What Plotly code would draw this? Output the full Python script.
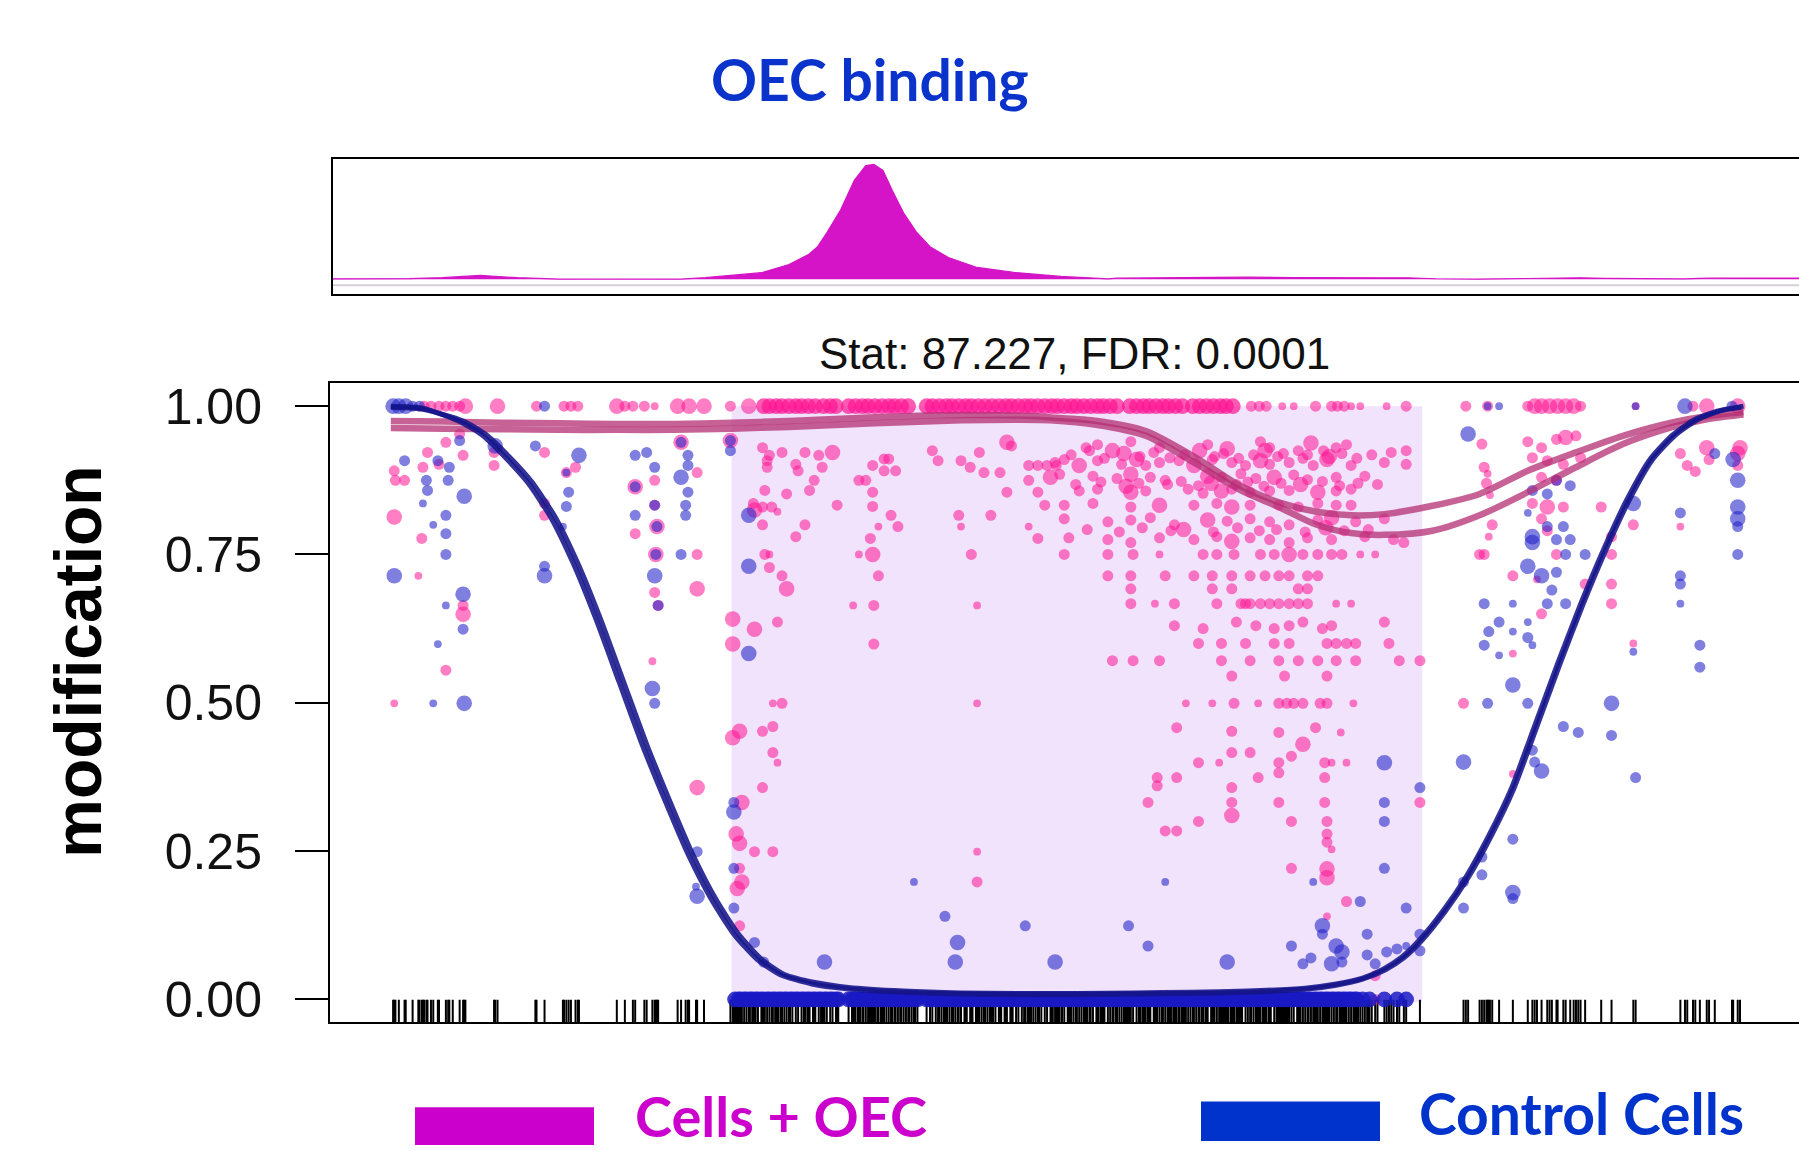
import numpy as np
import plotly.graph_objects as go

W, H = 1799, 1151

# ---------------------------------------------------------------- data
x_min, x_max = 0, 1280.4            # genomic window (relative position units)
region_start, region_end = 350, 952  # highlighted region

y_ticks = [0, 0.25, 0.5, 0.75, 1.0]
y_tick_labels = ["0.00", "0.25", "0.50", "0.75", "1.00"]

# OEC binding signal (top track)
track_x = [0, 40, 65, 69, 98, 131, 163, 184, 200, 237, 306, 327, 343, 376, 400, 417, 425, 433, 445, 457,
           467, 474, 482, 490, 500, 511, 523, 539, 564, 596, 637, 662, 678, 686, 720, 760, 800, 840, 880, 920,
           939, 964, 1000, 1021, 1062, 1090, 1111, 1144, 1180, 1201, 1240, 1281]
track_y = [0.5, 0.5, 0.8, 0.8, 1.7, 4.0, 1.7, 0.7, 0.3, 0.2, 0.3, 1.7, 3.3, 6.7, 15, 25, 33, 47, 70, 100,
           115, 116, 110, 90, 67, 48, 33, 22, 12, 7, 3, 1.2, 0.5, 1.2, 1.6, 2.0, 2.2, 1.8, 2.0, 1.6,
           1.5, 0.6, 0.3, 0.5, 1.3, 1.5, 1.0, 0.4, 0.4, 1.2, 1.5, 1.3]

# ---- Cells + OEC
# fully modified sites (y = 1)
pink_top_y = 1.0
pink_top_x = [82, 88, 95, 101, 107, 113, 118, 146, 180, 204, 210, 216, 250, 257, 264, 274, 283, 303, 313, 326,
              349, 365, 803, 810, 816, 830, 840, 859, 873, 878, 884, 890, 898, 921, 938, 990, 1009, 1044, 1050, 1056,
              1063, 1070, 1077, 1084, 1090, 1138, 1188, 1200, 1227]
pink_top_cov = [4, 4, 4, 4, 4, 4, 8, 8, 4, 4, 4, 4, 8, 4, 4, 4, 2, 8, 8, 8,
                4, 8, 4, 4, 4, 2, 2, 4, 4, 4, 4, 2, 2, 2, 4, 4, 4, 4, 8, 8,
                8, 8, 8, 8, 4, 2, 4, 8, 8]
pink_band_cov = 8
pink_band_x = [378, 383, 389, 394, 400, 406, 411, 417, 423, 430, 436, 441, 452, 458, 464, 469, 475, 481, 487, 492,
               498, 504, 520, 525, 531, 537, 542, 548, 554, 559, 565, 571, 577, 583, 589, 594, 600, 606, 611, 617,
               623, 629, 634, 640, 646, 651, 657, 663, 669, 674, 680, 686, 697, 703, 709, 714, 720, 726, 731, 737,
               743, 752, 758, 764, 770, 776, 781, 787]

pink_left_x = [56, 57, 65, 56, 77, 85, 81, 95, 101, 113, 116, 80, 116, 116, 101, 143, 143, 187, 187, 187,
               214, 206, 283, 266, 283, 285, 266, 284, 283, 286, 281, 306, 320, 320, 320, 349, 56, 320]
pink_left_y = [.891, .875, .875, .813, .714, .922, .897, .902, .939, .953, .917, .777, .664, .649, .555, .922, .900, .922, .836, .816,
               .897, .888, .875, .864, .833, .797, .785, .750, .686, .664, .570, .939, .888, .750, .692, .942, .499, .357]
pink_left_cov = [4, 4, 4, 8, 2, 4, 4, 4, 4, 4, 4, 4, 4, 8, 4, 4, 4, 4, 4, 4,
                 4, 4, 4, 8, 4, 8, 4, 8, 4, 4, 2, 8, 4, 4, 8, 8, 2, 8]

pink_mid_x = [377, 383, 381, 394, 381, 406, 379, 398, 369, 377, 385, 390, 370, 377, 414, 406, 379, 383, 383, 394, 398, 351, 370, 390, 351,
              414, 438, 426, 408, 429, 422, 418, 442, 461, 467, 473, 483, 487, 493, 483, 473, 473, 489, 478, 495, 471, 461, 473, 478, 456, 474, 474,
              525, 530, 550, 558, 570, 584, 566, 590, 594, 609, 617, 625, 633, 609, 590, 617, 623, 548, 576, 550, 609, 617, 559, 564]
pink_mid_y = [.930, .917, .908, .922, .897, .902, .858, .852, .836, .830, .830, .822, .825, .800, .800, .780, .750, .750, .728, .714, .692, .641, .624, .636, .599,
              .922, .922, .917, .891, .897, .875, .858, .833, .875, .875, .900, .911, .911, .891, .891, .855, .831, .816, .797, .797, .777, .750, .750, .714, .664, .664, .599,
              .925, .908, .908, .897, .888, .888, .922, .939, .933, .900, .900, .900, .900, .875, .855, .855, .833, .816, .816, .797, .797, .777, .750, .664]
pink_mid_cov = [4, 4, 4, 4, 4, 4, 4, 4, 4, 4, 4, 2, 8, 4, 4, 4, 4, 2, 4, 4, 8, 8, 8, 4, 8,
                4, 8, 4, 4, 4, 4, 4, 4, 4, 4, 4, 4, 4, 4, 4, 4, 4, 4, 2, 4, 4, 2, 8, 4, 2, 4, 4,
                4, 4, 4, 4, 4, 4, 4, 8, 4, 4, 4, 4, 4, 4, 4, 4, 4, 4, 4, 2, 2, 4, 4, 2]

pink_cloud_x = [659, 669, 682, 698, 723, 765, 782, 811, 819, 844, 855, 877, 886, 938,
                632, 640, 653, 669, 690, 703, 711, 723, 740, 753, 769, 786, 798, 811, 819, 836, 857, 869, 890, 919, 938,
                628, 636, 665, 686, 698, 715, 728, 765, 777, 794, 807, 823, 840, 852, 877, 902,
                653, 669, 698, 711, 748, 761, 777, 786, 802, 819, 836, 861, 877, 890,
                640, 665, 698, 723, 753, 773, 786, 802, 827, 844, 861, 877, 890,
                640, 678, 698, 715, 736, 765, 782, 802, 819, 836, 861, 873, 894, 919,
                644, 678, 698, 723, 753, 773, 786, 802, 819, 836, 852, 873, 902, 927, 936,
                640, 678, 700, 723, 761, 773, 788, 811, 823, 836, 848, 861, 873, 882, 898, 911,
                678, 698, 728, 753, 769, 786, 802, 815, 827, 836, 852, 861,
                698, 769, 786, 844, 852,
                698, 719, 736, 773, 794, 798, 802, 811, 819, 827, 836, 844, 852, 877, 890,
                736, 761, 790, 807, 823, 836, 848, 865, 873, 919,
                757, 777, 798, 823, 836, 869, 877, 886, 894, 923,
                682, 700, 723, 777, 802, 827, 844, 861, 877, 894, 932, 950,
                786, 832, 869]
pink_cloud_y = [.930, .935, .925, .940, .930, .935, .928, .940, .930, .925, .938, .930, .935, .925,
                .905, .910, .900, .908, .902, .910, .900, .905, .908, .900, .910, .905, .900, .908, .902, .905, .900, .910, .900, .905, .902,
                .880, .885, .882, .878, .885, .880, .875, .882, .880, .886, .878, .880, .884, .876, .880, .882,
                .857, .860, .855, .857, .860, .853, .857, .860, .855, .857, .858, .855, .857, .860,
                .833, .836, .830, .833, .833, .836, .830, .833, .833, .830, .836, .833, .833,
                .810, .805, .808, .812, .800, .808, .806, .810, .805, .800, .808, .812, .805, .810,
                .778, .775, .770, .778, .775, .780, .772, .778, .775, .770, .778, .775, .780, .775, .770,
                .750, .750, .750, .750, .750, .750, .750, .750, .750, .750, .750, .750, .750, .750, .750, .750,
                .714, .714, .714, .714, .714, .714, .714, .714, .714, .714, .714, .714,
                .692, .692, .692, .692, .692,
                .667, .667, .667, .667, .667, .667, .667, .667, .667, .667, .667, .667, .667, .667, .667,
                .630, .625, .636, .630, .625, .630, .636, .625, .630, .636,
                .600, .600, .600, .600, .600, .600, .600, .600, .600, .600,
                .571, .571, .571, .571, .571, .571, .571, .571, .571, .571, .571, .571,
                .545, .545, .545]
pink_cloud_cov = [4, 4, 8, 4, 4, 4, 8, 4, 4, 4, 8, 4, 4, 4,
                  4, 4, 8, 4, 4, 8, 4, 4, 4, 8, 4, 4, 4, 8, 4, 4, 4, 8, 4, 4, 4,
                  8, 4, 4, 4, 8, 4, 4, 8, 4, 4, 4, 8, 4, 4, 4, 4,
                  4, 4, 8, 4, 4, 4, 8, 4, 4, 4, 4, 8, 4, 4,
                  4, 4, 4, 8, 4, 4, 8, 4, 4, 4, 4, 4, 4,
                  4, 4, 4, 4, 4, 8, 4, 4, 4, 4, 4, 8, 4, 4,
                  4, 4, 4, 4, 4, 4, 8, 4, 4, 4, 4, 4, 4, 4, 4,
                  4, 4, 4, 2, 4, 4, 4, 4, 4, 8, 4, 4, 4, 4, 2, 2,
                  4, 4, 4, 4, 4, 4, 4, 4, 4, 4, 4, 4,
                  4, 4, 4, 4, 4,
                  4, 2, 4, 4, 4, 4, 4, 4, 4, 4, 4, 4, 4, 2, 2,
                  4, 4, 4, 4, 4, 4, 4, 4, 4, 4,
                  4, 4, 4, 4, 4, 4, 4, 4, 4, 4,
                  4, 4, 4, 4, 4, 4, 4, 4, 4, 4, 4, 4,
                  4, 4, 4]

# extra overlapping sites in the dense upper part of the cloud
pink_cloud2_x = [646, 662, 675, 692, 706, 718, 732, 745, 758, 771, 779, 792, 805, 815, 826, 831, 848, 852, 866, 871, 882, 895, 908, 925,
                 650, 672, 694, 705, 730, 742, 757, 768, 790, 800, 814, 829, 846, 865, 880, 896, 913,
                 660, 688, 708, 733, 744, 770, 791, 810, 825, 850, 868, 884, 905]
pink_cloud2_y = [.918, .925, .912, .920, .915, .922, .913, .918, .925, .915, .920, .912, .918, .925, .915, .920, .912, .918, .925, .915, .920, .912, .918, .922,
                 .868, .872, .865, .870, .868, .873, .866, .870, .868, .872, .865, .870, .868, .873, .866, .870, .868,
                 .792, .788, .795, .790, .792, .788, .795, .790, .792, .788, .795, .790, .792]
pink_cloud2_cov = [4, 4, 4, 8, 4, 4, 4, 4, 8, 4, 4, 4, 4, 8, 4, 4, 4, 4, 4, 8, 4, 4, 4, 4,
                   4, 4, 8, 4, 4, 4, 4, 8, 4, 4, 4, 4, 8, 4, 4, 4, 4,
                   4, 4, 4, 4, 8, 4, 4, 4, 4, 4, 8, 4, 4]

pink_low_x = [351, 357, 377, 386, 386, 390, 394, 386, 377, 359, 354, 357, 370, 386, 357, 359, 355, 357, 564, 564, 564, 356,
              746, 769, 788, 809, 827, 834, 840, 848, 863, 869, 892,
              738, 786, 827, 859, 881, 848, 786, 802, 757, 775, 827, 838, 867, 873, 886, 721, 721, 738, 809, 827, 867, 786,
              713, 786, 827, 867, 950, 728, 738, 757, 786, 838, 869, 869, 869, 873, 838, 869, 869, 886, 869, 911, 911]
pink_low_y = [.441, .452, .452, .460, .416, .399, .499, .499, .357, .332, .279, .263, .249, .249, .221, .198, .187, .124, .499, .249, .198, 0.0,
              .499, .499, .499, .499, .499, .499, .499, .499, .499, .499, .499,
              .458, .452, .450, .458, .450, .430, .416, .416, .399, .399, .399, .410, .399, .399, .399, .374, .360, .374, .374, .382, .374, .357,
              .332, .332, .332, .332, .332, .284, .284, .300, .310, .300, .300, .279, .265, .253, .221, .220, .205, .165, .140, .040, 0.0]
pink_low_cov = [8, 8, 4, 4, 4, 2, 4, 2, 4, 8, 8, 8, 4, 4, 4, 8, 8, 4, 2, 2, 4, 4,
                2, 2, 4, 2, 4, 4, 4, 4, 4, 4, 2,
                4, 4, 4, 4, 2, 8, 4, 4, 4, 2, 4, 4, 4, 2, 2, 4, 4, 4, 4, 4, 4, 4,
                4, 4, 4, 4, 4, 4, 4, 4, 8, 4, 4, 4, 4, 2, 4, 8, 8, 4, 2, 4, 4]

pink_right_x = [1004, 1006, 1009, 1044, 1056, 1069, 1077, 1086, 1048, 1061, 1075, 1090, 1056, 1069, 1048, 1061, 1075, 1056, 1061, 1069,
                1052, 1094, 1031, 1013, 1010, 1002, 1006, 1011, 1008, 1031, 1056, 1117, 1117, 1117, 1117, 1108, 1136, 1136, 1177, 1177,
                1183, 1190, 1200, 1202, 1227, 1229, 1227, 988, 1031]
pink_right_y = [.936, .897, .886, .940, .930, .944, .947, .950, .913, .908, .902, .913, .880, .875, .836, .830, .830, .810, .790, .750,
                .708, .700, .714, .800, .780, .750, .750, .850, .870, .583, .650, .780, .750, .700, .667, .830, .800, .600, .797, .920,
                .900, .890, .930, .910, .920, .930, .900, .499, .380]
pink_right_cov = [4, 4, 2, 4, 4, 4, 8, 4, 4, 4, 4, 4, 4, 4, 4, 8, 4, 4, 4, 4,
                  2, 4, 4, 4, 2, 4, 4, 2, 4, 2, 4, 4, 4, 4, 4, 4, 4, 2, 2, 4,
                  4, 4, 8, 4, 8, 8, 4, 4, 2]

# ---- Control cells
blue_top_y = 1.0
blue_top_x = [55, 60, 66, 72, 78, 187, 1009, 1019, 1138, 1181, 1222]
blue_top_cov = [8, 8, 8, 4, 4, 4, 2, 2, 2, 8, 4]

# unmodified sites (y = 0), densely packed inside the region
blue_band_y = 0.0
blue_band_cov = 8
blue_band_x = [353, 358, 363, 368, 373, 378, 383, 388, 393, 398, 403, 408, 413, 418, 423, 428, 433, 438, 443, 452,
               457, 462, 467, 472, 477, 482, 487, 492, 497, 502, 507, 512, 520, 525, 530, 535, 540, 545, 550, 555,
               560, 565, 570, 575, 580, 585, 590, 595, 600, 605, 610, 615, 620, 625, 630, 635, 640, 645, 650, 655,
               660, 665, 670, 675, 680, 685, 690, 695, 700, 705, 710, 715, 720, 725, 730, 735, 740, 745, 750, 755,
               760, 765, 770, 775, 780, 785, 790, 795, 800, 805, 810, 815, 820, 825, 830, 835, 840, 845, 850, 855,
               860, 865, 870, 875, 880, 885, 890, 895, 900, 906, 919, 930, 938]
blue_band2_x = [356, 361, 366, 371, 376, 381, 386, 391, 396, 401, 406, 411, 416, 421, 426, 431, 436, 441, 455, 460,
                465, 470, 475, 480, 485, 490, 495, 500, 505, 510, 523, 528, 533, 538, 543, 548, 553, 558, 563, 568,
                573, 578, 583, 588, 593, 598, 603, 608, 613, 618, 623, 628, 633, 638, 643, 648, 653, 658, 663, 668,
                673, 678, 683, 688, 693, 698, 703, 708, 713, 718, 723, 728, 733, 738, 743, 748, 753, 758, 763, 768,
                773, 778, 783, 788, 793, 798, 803, 808, 813, 818, 823, 828, 833, 838, 843, 848, 853, 858, 863, 868,
                873, 878, 883, 888, 893]

blue_left_x = [65, 56, 94, 104, 113, 84, 85, 103, 117, 81, 101, 90, 101, 101, 116, 116, 101, 94, 144, 179, 187, 187, 217, 206, 208, 206, 203,
               266, 276, 283, 266, 266, 283, 285, 284, 283, 286, 306, 312, 312, 306, 312, 310, 310, 306, 349, 349, 365, 365, 365]
blue_left_y = [.908, .714, .908, .897, .942, .875, .858, .875, .848, .836, .816, .800, .785, .750, .683, .624, .664, .599, .933, .933, .730, .714, .917, .888, .855, .831, .797,
               .917, .922, .897, .864, .816, .833, .797, .750, .714, .664, .939, .917, .900, .880, .855, .833, .816, .750, .942, .925, .816, .730, .583]
blue_left_cov = [4, 8, 4, 4, 4, 4, 4, 4, 8, 2, 4, 2, 4, 4, 8, 4, 2, 2, 8, 4, 4, 8, 8, 2, 4, 4, 2,
                 4, 4, 4, 4, 4, 4, 4, 4, 8, 4, 4, 4, 4, 8, 4, 4, 4, 4, 4, 4, 8, 8, 8]

blue_low_x = [90, 117, 281, 283, 320, 319, 320, 352, 352, 352, 352, 370, 378, 431, 509, 536, 547, 545, 606, 632,
              919, 950, 919, 919, 919, 728, 857, 898, 938, 696, 865, 865, 904, 950, 713, 838, 877, 882, 848, 855,
              873, 882, 904, 911, 921, 930, 950, 782, 938]
blue_low_y = [.499, .499, .524, .499, .249, .190, .174, .332, .316, .221, .154, .096, .063, .063, .198, .140, .096, .063, .124, .063,
              .399, .357, .332, .300, .221, .198, .198, .165, .154, .124, .124, .110, .110, .110, .090, .090, .090, .080, .060, .070,
              .060, .063, .075, .060, .080, .085, .082, .063, .090]
blue_low_cov = [2, 8, 8, 4, 4, 2, 8, 4, 8, 4, 4, 4, 4, 8, 2, 4, 8, 8, 4, 8,
                8, 4, 4, 4, 4, 2, 2, 4, 4, 4, 8, 4, 4, 4, 4, 4, 8, 8, 4, 4,
                8, 4, 4, 4, 4, 4, 4, 8, 2]

blue_right_x = [1009, 1031, 1044, 1088, 1075, 1117, 1117, 1138, 988, 1048, 1050, 1056, 1031, 1004, 988, 1031, 1031, 988, 1004,
                992, 1069, 1081, 1048, 1061, 1044, 1061, 1075, 1048, 1048, 1069, 1081, 1077, 1094, 1044, 1056, 1069, 1065,
                1006, 1031, 1019, 1010, 1031, 1006, 1048, 1019, 1044, 1044, 1061, 1077, 1136, 1136, 1177, 1177, 1177, 1177,
                1194, 1194, 1207, 1223, 1227, 1227, 1227, 1227, 1227]
blue_right_y = [.499, .530, .499, .450, .460, .499, .445, .374, .400, .420, .400, .385, .270, .210, .198, .180, .170, .154, .240,
                .953, .875, .866, .858, .852, .820, .797, .797, .780, .770, .775, .775, .750, .750, .730, .714, .720, .690,
                .667, .667, .636, .620, .620, .597, .597, .580, .636, .610, .667, .667, .836, .586, .820, .714, .700, .667,
                .597, .560, .920, .910, .875, .830, .810, .797, .750]
blue_right_cov = [4, 8, 4, 4, 4, 8, 4, 4, 8, 4, 4, 8, 4, 4, 4, 8, 4, 4, 4,
                  8, 4, 4, 4, 4, 2, 4, 4, 8, 8, 4, 4, 4, 4, 8, 8, 4, 4,
                  4, 2, 4, 4, 2, 4, 2, 2, 2, 4, 4, 4, 8, 2, 4, 4, 4, 2,
                  4, 4, 4, 8, 8, 8, 8, 4, 4]

# ---- smooth fits
pink_fit_x = [53, 100, 150, 200, 250, 300, 350, 400, 450, 500, 550, 600, 628, 669, 711, 753, 794, 827, 860, 890,
              919, 961, 1002, 1044, 1086, 1127, 1169, 1200, 1232]
pink_fit1_y = [.975, .974, .972, .971, .970, .970, .972, .975, .979, .983, .985, .984, .981, .975, .958, .915, .865, .838, .822, .816,
               .818, .832, .852, .891, .922, .950, .972, .983, .990]
pink_fit2_y = [.963, .962, .961, .960, .960, .960, .962, .965, .969, .973, .976, .977, .976, .968, .950, .905, .858, .830, .800, .786,
               .783, .790, .816, .855, .897, .936, .964, .978, .986]

blue_fit1_x = [53, 80, 112, 132, 152, 172, 192, 212, 232, 252, 272, 292, 312, 332, 352, 372, 392, 420, 450, 500,
               550, 600, 650, 700, 750, 800, 850, 877, 900, 920, 936, 952, 972, 992, 1012, 1032, 1052, 1072, 1092, 1112,
               1132, 1152, 1172, 1192, 1212, 1232]
blue_fit1_y = [1.0, .997, .975, .952, .915, .872, .814, .735, .640, .535, .430, .335, .245, .170, .110, .068, .042, .026, .018, .012,
               .009, .008, .008, .009, .010, .012, .017, .024, .034, .050, .070, .100, .148, .205, .275, .356, .460, .565, .665, .757,
               .840, .908, .950, .977, .992, 1.0]
blue_fit2_x = [53, 80, 116, 136, 156, 176, 196, 216, 236, 256, 276, 296, 316, 336, 356, 376, 396, 424, 452, 500,
               550, 600, 650, 700, 750, 800, 850, 877, 900, 918, 934, 950, 970, 990, 1010, 1030, 1050, 1070, 1090, 1110,
               1130, 1150, 1170, 1190, 1210, 1230]
blue_fit2_y = [.998, .995, .975, .952, .915, .872, .814, .735, .640, .535, .430, .335, .245, .170, .110, .068, .042, .028, .020, .014,
               .011, .010, .010, .011, .012, .014, .019, .026, .036, .051, .071, .101, .149, .206, .276, .357, .461, .566, .666, .758,
               .841, .909, .951, .978, .992, .998]

# ---------------------------------------------------------------- styling helpers
PINK = "#FF1493"
BLUE = "#2222C8"
def px_x(v):
    return v / W
def px_y(v):
    return 1 - v / H
def msize(cov):
    return list(5.5 * np.sqrt(np.asarray(cov, dtype=float)))

pink_x = (pink_top_x + pink_left_x + pink_mid_x + pink_cloud_x + pink_cloud2_x + pink_low_x + pink_right_x)
pink_y = ([pink_top_y] * len(pink_top_x) + pink_left_y + pink_mid_y
          + pink_cloud_y + pink_cloud2_y + pink_low_y + pink_right_y)
pink_cov = (pink_top_cov + pink_left_cov + pink_mid_cov
            + pink_cloud_cov + pink_cloud2_cov + pink_low_cov + pink_right_cov)

blue_x = blue_top_x + blue_left_x + blue_low_x + blue_right_x
blue_y = [blue_top_y] * len(blue_top_x) + blue_left_y + blue_low_y + blue_right_y
blue_cov = blue_top_cov + blue_left_cov + blue_low_cov + blue_right_cov

band_blue_x = blue_band_x + blue_band2_x

rug_x = sorted(set(int(round(v)) for v in pink_x + pink_band_x + blue_x + band_blue_x))

fig = go.Figure()

# top track
fig.add_trace(go.Scatter(x=track_x, y=track_y, xaxis="x2", yaxis="y2", mode="lines",
                         line=dict(color="#D414C6", width=1.2), fill="tozeroy", fillcolor="#D414C6",
                         hoverinfo="skip"))

# rug (drawn first so the points sit on top of it)
fig.add_trace(go.Scatter(x=rug_x, y=[-0.023] * len(rug_x), mode="markers",
                         marker=dict(symbol="line-ns", size=19, line=dict(color="black", width=2)),
                         hoverinfo="skip"))

# points
fig.add_trace(go.Scatter(x=pink_x, y=pink_y, mode="markers", name="Cells + OEC",
                         marker=dict(color=PINK, opacity=0.55, size=msize(pink_cov), line=dict(width=0))))
fig.add_trace(go.Scatter(x=pink_band_x, y=[pink_top_y] * len(pink_band_x), mode="markers", name="Cells + OEC",
                         marker=dict(color=PINK, opacity=0.7, size=msize([pink_band_cov] * len(pink_band_x)),
                                     line=dict(width=0))))
fig.add_trace(go.Scatter(x=blue_x, y=blue_y, mode="markers", name="Control Cells",
                         marker=dict(color=BLUE, opacity=0.58, size=msize(blue_cov), line=dict(width=0))))
fig.add_trace(go.Scatter(x=band_blue_x, y=[blue_band_y] * len(band_blue_x), mode="markers", name="Control Cells",
                         marker=dict(color="#1A1AC4", opacity=0.85, size=msize([blue_band_cov] * len(band_blue_x)),
                                     line=dict(width=0))))

# fits
for fy in (pink_fit1_y, pink_fit2_y):
    fig.add_trace(go.Scatter(x=pink_fit_x, y=fy, mode="lines",
                             line=dict(color="rgba(180,45,115,0.75)", width=6.5, shape="spline", smoothing=0.8),
                             hoverinfo="skip"))
for fx, fy in ((blue_fit1_x, blue_fit1_y), (blue_fit2_x, blue_fit2_y)):
    fig.add_trace(go.Scatter(x=fx, y=fy, mode="lines",
                             line=dict(color="rgba(20,20,138,0.88)", width=5, shape="spline", smoothing=0.6),
                             hoverinfo="skip"))

shapes = [
    dict(type="rect", xref="x", yref="y", x0=region_start, x1=region_end, y0=-0.005, y1=1.0,
         fillcolor="#F0E3FB", line=dict(width=0), layer="below"),
    dict(type="line", xref="x2", yref="y2", x0=2.6, x1=x_max, y0=-6, y1=-6,
         line=dict(color="#D6D0D6", width=2)),
    # legend keys
    dict(type="rect", xref="paper", yref="paper", x0=px_x(415), x1=px_x(594), y0=px_y(1151), y1=px_y(1113),
         fillcolor="#CC00CC", line=dict(width=0)),
    dict(type="rect", xref="paper", yref="paper", x0=px_x(1201), x1=px_x(1380), y0=px_y(1147), y1=px_y(1107),
         fillcolor="#0033CC", line=dict(width=0)),
]

annotations = [
    dict(text="<b>OEC binding</b>", x=px_x(870), y=px_y(75), xref="paper", yref="paper", showarrow=False,
         xanchor="center", yanchor="middle", font=dict(family="Lato", size=57, color="#0A33CC")),
    dict(text="Stat: 87.227, FDR: 0.0001", x=px_x(1074), y=px_y(352), xref="paper", yref="paper", showarrow=False,
         xanchor="center", yanchor="middle", font=dict(family="Liberation Sans", size=44, color="#111111")),
    dict(text="<b>modification</b>", x=px_x(78), y=px_y(663), xref="paper", yref="paper", showarrow=False,
         textangle=-90, xanchor="center", yanchor="middle",
         font=dict(family="Liberation Sans", size=66, color="#000000")),
    dict(text="<b>Cells + OEC</b>", x=px_x(633), y=px_y(1121), xref="paper", yref="paper", showarrow=False,
         xanchor="left", yanchor="middle", font=dict(family="Lato", size=56, color="#CC00CC")),
    dict(text="<b>Control Cells</b>", x=px_x(1417), y=px_y(1119), xref="paper", yref="paper", showarrow=False,
         xanchor="left", yanchor="middle", font=dict(family="Lato", size=57, color="#0033CC")),
]

fig.update_layout(
    width=W, height=H, autosize=False,
    margin=dict(l=0, r=0, t=0, b=0, pad=0),
    paper_bgcolor="white", plot_bgcolor="white",
    showlegend=False,
    xaxis=dict(domain=[px_x(330), 1], range=[x_min, x_max], showgrid=False, zeroline=False,
               showticklabels=False, ticks="", showline=True, linecolor="black", linewidth=2, mirror=True),
    yaxis=dict(domain=[px_y(1027), px_y(382)], range=[-0.0384, 1.0384], showgrid=False, zeroline=False,
               showline=True, linecolor="black", linewidth=2, mirror=False,
               ticks="outside", ticklen=33, tickwidth=2, tickcolor="black",
               tickvals=y_ticks, ticktext=y_tick_labels, ticklabelstandoff=23,
               tickfont=dict(family="Liberation Sans", size=50, color="#111111")),
    xaxis2=dict(domain=[px_x(333), 1], anchor="y2", range=[2.6, x_max], showgrid=False, zeroline=False,
                showticklabels=False, ticks="", showline=True, linecolor="black", linewidth=2, mirror=True),
    yaxis2=dict(domain=[px_y(292), px_y(155)], anchor="x2", range=[-15, 122], showgrid=False, zeroline=False,
                showticklabels=False, ticks="", showline=True, linecolor="black", linewidth=2, mirror=False),
    shapes=shapes,
    annotations=annotations,
)

fig.write_html("out.html", include_plotlyjs=True, config={"displayModeBar": False})
